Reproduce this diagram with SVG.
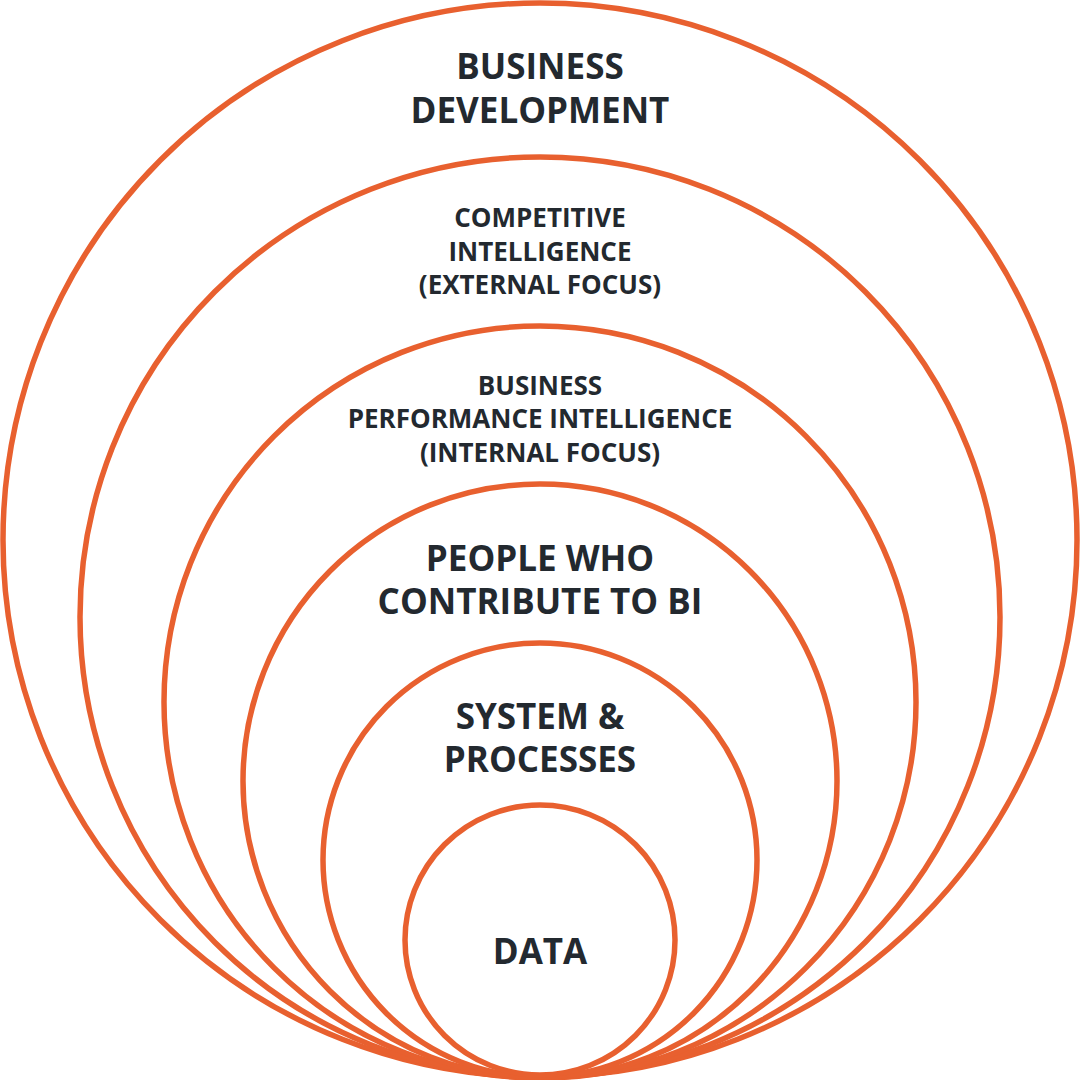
<svg xmlns="http://www.w3.org/2000/svg" width="1080" height="1080" viewBox="0 0 1080 1080">
<style>
.ring{fill:none;stroke:#E8602F;stroke-width:5.5}
.t{font-family:"Open Sans","Liberation Sans",sans-serif;font-weight:700;fill:#23292F;text-anchor:middle}
.big{font-size:35px}
.small{font-size:26px}
</style>
<rect width="1080" height="1080" fill="#ffffff"/>
<g id="business-development">
<circle class="ring" cx="540" cy="540" r="537"/>
<text class="t big" x="540" y="79">BUSINESS</text>
<text class="t big" x="540" y="123">DEVELOPMENT</text>
</g>
<g id="competitive-intelligence">
<circle class="ring" cx="540" cy="617" r="460"/>
<text class="t small" x="540" y="227">COMPETITIVE</text>
<text class="t small" x="540" y="261">INTELLIGENCE</text>
<text class="t small" x="540" y="294">(EXTERNAL FOCUS)</text>
</g>
<g id="business-performance-intelligence">
<circle class="ring" cx="540" cy="702" r="376"/>
<text class="t small" x="540" y="395">BUSINESS</text>
<text class="t small" x="540" y="428">PERFORMANCE INTELLIGENCE</text>
<text class="t small" x="540" y="462">(INTERNAL FOCUS)</text>
</g>
<g id="people">
<circle class="ring" cx="540" cy="781" r="297"/>
<text class="t big" x="540" y="571">PEOPLE WHO</text>
<text class="t big" x="540" y="614">CONTRIBUTE TO BI</text>
</g>
<g id="system-processes">
<circle class="ring" cx="540" cy="860" r="217"/>
<text class="t big" x="540" y="729">SYSTEM &amp;</text>
<text class="t big" x="540" y="772">PROCESSES</text>
</g>
<g id="data">
<circle class="ring" cx="540" cy="940" r="135"/>
<text class="t big" x="540" y="964">DATA</text>
</g>
<g id="connectors"></g>
</svg>
